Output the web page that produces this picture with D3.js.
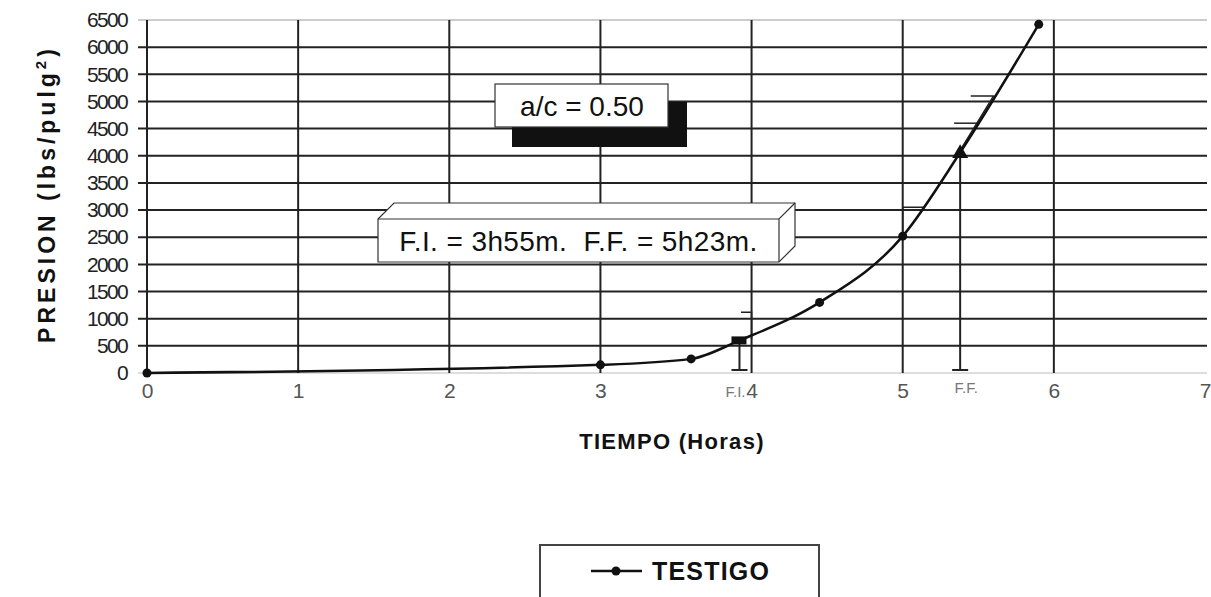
<!DOCTYPE html>
<html>
<head>
<meta charset="utf-8">
<script src="https://cdn.jsdelivr.net/npm/d3@7"></script>
<style>
  body { margin: 0; background: #fff; }
  text { font-family: "Liberation Sans", Arial, sans-serif; }
</style>
</head>
<body>
<script>
const w = 1211;
const h = 597;

// data
const horas = [0, 3, 3.6, 3.92, 4.45, 5, 5.38, 5.9];
const presion = [0, 150, 260, 600, 1300, 2520, 4060, 6420];
const testigoIdx = [0, 1, 2, 4, 5, 7];   // points that carry the round marker
const xTicks = [0, 1, 2, 3, 4, 5, 6, 7];
const yTicks = d3.range(0, 6501, 500);
const fraguado = [
  {label: "F.I.", t: 3.92, p: 600},
  {label: "F.F.", t: 5.38, p: 4060}
];

const x = d3.scaleLinear().domain([0, 7]).range([147, 1205]);
const y = d3.scaleLinear().domain([0, 6500]).range([373, 20]);

let svg = d3.select("body")
            .append("svg")
            .attr("width", w)
            .attr("height", h);

// y tick labels
svg.append("g")
    .attr("transform", "translate(" + x(0) + ",0)")
    .call(d3.axisLeft(y).tickValues(yTicks).tickSize(0).tickPadding(20).tickFormat(d3.format("d")))
    .call(g => g.select(".domain").remove())
    .call(g => g.selectAll("text")
        .attr("font-size", 21)
        .attr("letter-spacing", -1.7)
        .attr("fill", "#222"));

// horizontal grid
svg.append("g").selectAll("line")
    .data(yTicks)
    .enter()
    .append("line")
    .attr("x1", x(0) - 9)
    .attr("x2", 1207)
    .attr("y1", d => y(d))
    .attr("y2", d => y(d))
    .attr("stroke", d => d === 6500 ? "#999" : (d === 0 ? "#bbb" : "#222"))
    .attr("stroke-width", d => (d === 6500 || d === 0) ? 1.2 : 2);

// vertical grid
svg.append("g").selectAll("line")
    .data(xTicks.filter(d => d < 7))
    .enter()
    .append("line")
    .attr("x1", d => x(d))
    .attr("x2", d => x(d))
    .attr("y1", y(6500))
    .attr("y2", y(0))
    .attr("stroke", "#222")
    .attr("stroke-width", 2);

// x axis labels
svg.append("g")
    .attr("transform", "translate(0," + y(0) + ")")
    .call(d3.axisBottom(x).tickValues(xTicks).tickSize(0).tickPadding(10).tickFormat(d3.format("d")))
    .call(g => g.select(".domain").remove())
    .call(g => g.selectAll("text")
        .attr("font-size", 21)
        .attr("fill", "#555"));

// axis titles
svg.append("text")
    .attr("x", 672)
    .attr("y", 449)
    .attr("text-anchor", "middle")
    .attr("font-size", 22)
    .attr("font-weight", "bold")
    .attr("letter-spacing", 1.3)
    .attr("fill", "#111")
    .text("TIEMPO (Horas)");

let yt = svg.append("text")
    .attr("transform", "translate(55,194) rotate(-90)")
    .attr("text-anchor", "middle")
    .attr("font-size", 23)
    .attr("font-weight", "bold")
    .attr("letter-spacing", 4)
    .attr("fill", "#111");
yt.append("tspan").text("PRESION (lbs/pulg");
yt.append("tspan").attr("font-size", 15).attr("dy", -9).text("2");
yt.append("tspan").attr("dy", 9).text(")");

// F.I. / F.F. drop lines with caps
fraguado.forEach(f => {
    svg.append("line")
        .attr("x1", x(f.t)).attr("x2", x(f.t))
        .attr("y1", y(f.p)).attr("y2", y(0) - 3)
        .attr("stroke", "#222").attr("stroke-width", 2);
    svg.append("line")
        .attr("x1", x(f.t) - 8).attr("x2", x(f.t) + 8)
        .attr("y1", y(0) - 3).attr("y2", y(0) - 3)
        .attr("stroke", "#222").attr("stroke-width", 2);
    svg.append("text")
        .attr("x", x(f.t) + (f.label === "F.I." ? -4 : 6))
        .attr("y", y(0) + (f.label === "F.I." ? 24 : 20))
        .attr("text-anchor", "middle")
        .attr("font-family", "'Liberation Serif', serif")
        .attr("font-size", 15)
        .attr("fill", "#777")
        .text(f.label);
});

// small bracket strokes near the curve
const brackets = [
    [[4.0, 620], [4.0, 1120], [3.93, 1120]],
    [[5.0, 2520], [5.0, 3050], [5.14, 3050]],
    [[5.38, 4100], [5.6, 5100], [5.45, 5100]],
    [[5.5, 4600], [5.34, 4600]]
];
svg.append("g").selectAll("path")
    .data(brackets)
    .enter()
    .append("path")
    .attr("d", d => d3.line().x(p => x(p[0])).y(p => y(p[1]))(d))
    .attr("fill", "none")
    .attr("stroke", "#222")
    .attr("stroke-width", 1.5);

// the curve
const pts = horas.map((t, i) => [t, presion[i]]);
svg.append("path")
    .datum(pts)
    .attr("d", d3.line().x(d => x(d[0])).y(d => y(d[1])).curve(d3.curveMonotoneX))
    .attr("fill", "none")
    .attr("stroke", "#111")
    .attr("stroke-width", 2.5);

svg.append("g").selectAll("circle")
    .data(testigoIdx)
    .enter()
    .append("circle")
    .attr("cx", i => x(horas[i]))
    .attr("cy", i => y(presion[i]))
    .attr("r", 4.5)
    .attr("fill", "#111");

// F.I. square marker and F.F. triangle
svg.append("rect")
    .attr("x", x(fraguado[0].t) - 8)
    .attr("y", y(fraguado[0].p) - 4)
    .attr("width", 15)
    .attr("height", 8)
    .attr("fill", "#111");
svg.append("path")
    .attr("d", d3.symbol().type(d3.symbolTriangle).size(110)())
    .attr("transform", "translate(" + x(fraguado[1].t) + "," + (y(fraguado[1].p) + 1) + ")")
    .attr("fill", "#111");

// a/c box with shadow
svg.append("rect")
    .attr("x", 512).attr("y", 102)
    .attr("width", 175).attr("height", 45)
    .attr("fill", "#111");
svg.append("rect")
    .attr("x", 495).attr("y", 84)
    .attr("width", 173).attr("height", 43)
    .attr("fill", "#fff")
    .attr("stroke", "#333")
    .attr("stroke-width", 1.2);
svg.append("text")
    .attr("x", 582).attr("y", 116)
    .attr("text-anchor", "middle")
    .attr("font-size", 28)
    .attr("fill", "#111")
    .text("a/c = 0.50");

// 3d box for setting times
const bx = 378, by = 219, bw = 401, bh = 43, dx = 16, dy = 16;
svg.append("path")
    .attr("d", `M${bx},${by} L${bx + dx},${by - dy} L${bx + bw + dx},${by - dy} L${bx + bw + dx},${by + bh - dy} L${bx + bw},${by + bh} L${bx},${by + bh} Z`)
    .attr("fill", "#fff")
    .attr("stroke", "#333")
    .attr("stroke-width", 1.2);
svg.append("path")
    .attr("d", `M${bx},${by} L${bx + bw},${by} L${bx + bw + dx},${by - dy} M${bx + bw},${by} L${bx + bw},${by + bh}`)
    .attr("fill", "none")
    .attr("stroke", "#333")
    .attr("stroke-width", 1.2);
svg.append("text")
    .attr("x", bx + bw / 2).attr("y", by + 32)
    .attr("text-anchor", "middle")
    .attr("font-size", 28)
    .attr("letter-spacing", 0.4)
    .attr("fill", "#111")
    .text("F.I. = 3h55m.\u00a0\u00a0F.F. = 5h23m.");

// legend
svg.append("rect")
    .attr("x", 540).attr("y", 545)
    .attr("width", 279).attr("height", 70)
    .attr("fill", "#fff")
    .attr("stroke", "#444")
    .attr("stroke-width", 2);
svg.append("line")
    .attr("x1", 591).attr("x2", 642)
    .attr("y1", 571).attr("y2", 571)
    .attr("stroke", "#111").attr("stroke-width", 2.5);
svg.append("circle")
    .attr("cx", 616).attr("cy", 571).attr("r", 4.5)
    .attr("fill", "#111");
svg.append("text")
    .attr("x", 652).attr("y", 580)
    .attr("font-size", 25)
    .attr("font-weight", "bold")
    .attr("letter-spacing", 1.2)
    .attr("fill", "#111")
    .text("TESTIGO");
</script>
</body>
</html>
